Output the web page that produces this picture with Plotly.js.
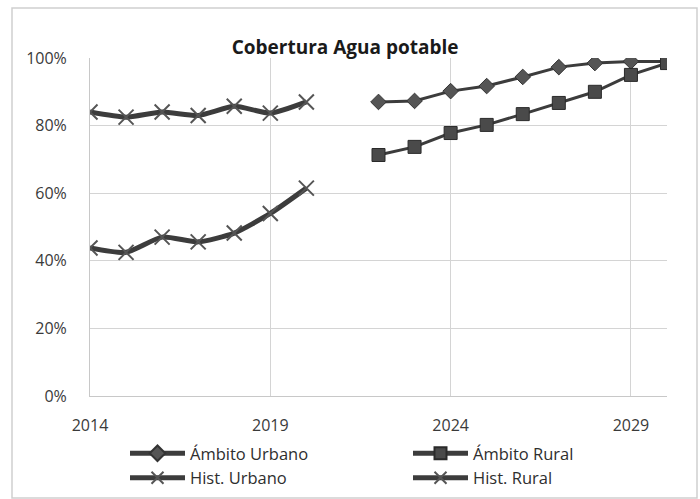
<!DOCTYPE html>
<html>
<head>
<meta charset="utf-8">
<script src="https://cdn.plot.ly/plotly-3.0.1.min.js"></script>
<style>
html,body{margin:0;padding:0;background:#fff;}
#chart{width:700px;height:499px;}
</style>
</head>
<body>
<div id="chart"></div>
<script>
// Data
const histYears = [2014, 2015, 2016, 2017, 2018, 2019, 2020];
const histUrbano = [0.84, 0.825, 0.84, 0.83, 0.857, 0.837, 0.87];
const histRural = [0.438, 0.425, 0.47, 0.456, 0.482, 0.54, 0.615];
const projYears = [2022, 2023, 2024, 2025, 2026, 2027, 2028, 2029, 2030];
const ambitoUrbano = [0.87, 0.873, 0.902, 0.917, 0.944, 0.973, 0.985, 0.99, 0.99];
const ambitoRural = [0.713, 0.737, 0.778, 0.802, 0.834, 0.867, 0.90, 0.95, 0.985];
const yTicks = [0, 0.2, 0.4, 0.6, 0.8, 1.0];
const yTickLabels = ['0%', '20%', '40%', '60%', '80%', '100%'];
const xTicks = [2014, 2019, 2024, 2029];
const xTickLabels = ['2014', '2019', '2024', '2029'];

const lineCol = '#3c3c3c';
const fam = 'Open Sans, Liberation Sans, sans-serif';
const tickFnt = {family: fam, size: 16, color: '#3a3a3a'};
const legFnt = {family: fam, size: 16.5, color: '#2e2e2e'};

const traces = [
  {x: projYears, y: ambitoUrbano, name: 'Ámbito Urbano', mode: 'lines+markers', legendrank: 1,
   line: {color: lineCol, width: 3},
   marker: {symbol: 'diamond', size: 12, color: '#555', line: {color: '#333', width: 1}}},
  {x: projYears, y: ambitoRural, name: 'Ámbito Rural', mode: 'lines+markers', legendrank: 2,
   line: {color: lineCol, width: 3},
   marker: {symbol: 'square', size: 13, color: '#4a4a4a', line: {color: '#2a2a2a', width: 1}}},
  {x: histYears, y: histUrbano, name: 'Hist. Urbano', mode: 'lines+markers', legendrank: 3,
   line: {color: lineCol, width: 5, shape: 'spline', smoothing: 0.6},
   marker: {symbol: 'x-thin-open', size: 15, color: '#555', line: {color: '#555', width: 2}}},
  {x: histYears, y: histRural, name: 'Hist. Rural', mode: 'lines+markers', legendrank: 4,
   line: {color: lineCol, width: 5, shape: 'spline', smoothing: 0.6},
   marker: {symbol: 'x-thin-open', size: 15, color: '#555', line: {color: '#555', width: 2}}}
];

const layout = {
  width: 700, height: 499,
  margin: {l: 90, r: 33, t: 58, b: 103},
  paper_bgcolor: '#fff', plot_bgcolor: '#fff',
  font: tickFnt,
  title: {text: '<b>Cobertura Agua potable</b>', xref: 'container', yref: 'container',
          x: 0.493, xanchor: 'center', y: 1 - 47/499, yanchor: 'middle',
          font: {family: fam, size: 19, color: '#1a1a1a'}},
  xaxis: {range: [2014, 2030], tickvals: xTicks, ticktext: xTickLabels,
          showgrid: true, gridcolor: '#d4d4d4', gridwidth: 1, zeroline: false,
          showline: true, linecolor: '#c8c8c8', linewidth: 1, ticks: '',
          ticklabelstandoff: 15, tickfont: tickFnt, automargin: false},
  yaxis: {range: [0, 1], tickvals: yTicks, ticktext: yTickLabels,
          showgrid: true, gridcolor: '#d4d4d4', gridwidth: 1, zeroline: false,
          showline: true, linecolor: '#c8c8c8', linewidth: 1, ticks: '',
          ticklabelstandoff: 19, tickfont: tickFnt, automargin: false},
  showlegend: true,
  legend: {orientation: 'h', xref: 'container', yref: 'container',
           x: 125/700, xanchor: 'left', y: 1 - 436/499, yanchor: 'top',
           entrywidth: 213, entrywidthmode: 'pixels', tracegroupgap: 0,
           itemwidth: 55, itemsizing: 'constant',
           font: legFnt, bgcolor: 'rgba(0,0,0,0)'},
  shapes: [
    {type: 'rect', xref: 'paper', yref: 'paper',
     x0: (12 - 90) / 577, x1: (697 - 90) / 577,
     y0: (396 - 498) / 338, y1: (396 - 8) / 338,
     line: {color: '#cfcfcf', width: 1.5}, fillcolor: 'rgba(0,0,0,0)', layer: 'below'}
  ]
};

Plotly.newPlot('chart', traces, layout, {displayModeBar: false, staticPlot: true});
</script>
</body>
</html>
